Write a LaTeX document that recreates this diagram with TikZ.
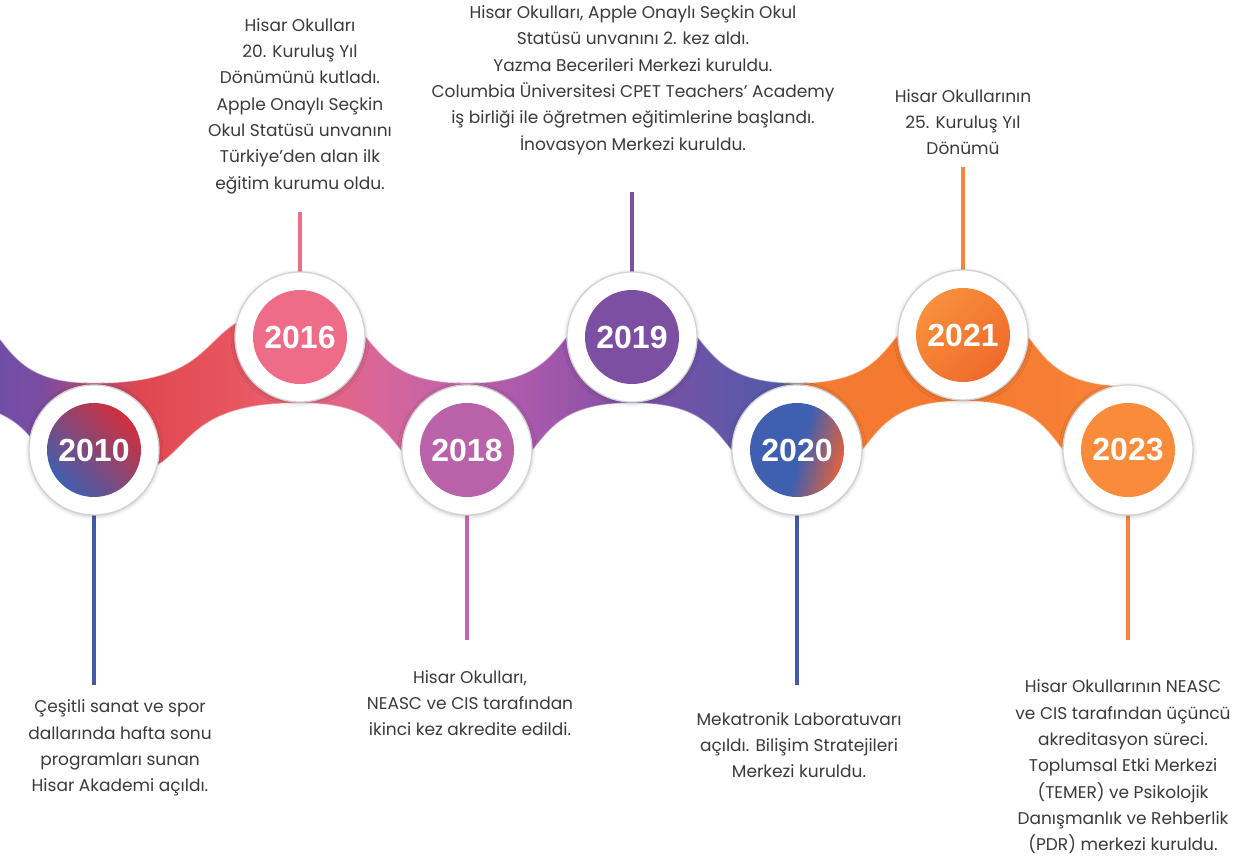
\documentclass[tikz,border=0pt]{standalone}
\usepackage{fontspec}
\setmainfont{Poppins}
\newfontfamily\yearfont{Liberation Sans}
\usetikzlibrary{shadows.blur}
\definecolor{txt}{HTML}{3A3A3A}
\definecolor{r0}{HTML}{644EAE}
\definecolor{r1}{HTML}{7A4CA2}
\definecolor{r2}{HTML}{E0474F}
\definecolor{r3}{HTML}{E7555E}
\definecolor{r4}{HTML}{EA6378}
\definecolor{r5}{HTML}{D8669A}
\definecolor{r6}{HTML}{BB62AA}
\definecolor{r7}{HTML}{A257AB}
\definecolor{r8}{HTML}{7F4FA4}
\definecolor{r9}{HTML}{6456A8}
\definecolor{r10}{HTML}{5559AA}
\definecolor{r11}{HTML}{F57A32}
\definecolor{r12}{HTML}{F6792F}
\definecolor{r13}{HTML}{F7843A}
\definecolor{cblue}{HTML}{3F5FB0}
\definecolor{cred}{HTML}{D12F3C}
\definecolor{cpink}{HTML}{EE6C87}
\definecolor{corchid}{HTML}{B962A9}
\definecolor{cpurple}{HTML}{7C4FA2}
\definecolor{corange}{HTML}{F98B3A}
\definecolor{corangeL}{HTML}{F8903C}
\definecolor{corangeD}{HTML}{F06A2A}
\definecolor{cmix}{HTML}{E2623C}
\definecolor{lblue}{HTML}{4459A8}
\definecolor{lpink}{HTML}{EE6E8A}
\definecolor{lorchid}{HTML}{C268B2}
\definecolor{lpurple}{HTML}{7D4FA5}
\definecolor{lorange}{HTML}{F7853A}
\definecolor{ringline}{HTML}{D2D2D2}
\pgfdeclarehorizontalshading{ribbonshade}{100bp}{color(0bp)=(r0); color(25bp)=(r0); color(29.4bp)=(r1); color(33.6bp)=(r2); color(37.4bp)=(r3); color(40.3bp)=(r4); color(43.65bp)=(r5); color(47.3bp)=(r6); color(50.8bp)=(r7); color(54.2bp)=(r8); color(57.9bp)=(r9); color(60.4bp)=(r10); color(61.9bp)=(r11); color(68.1bp)=(r12); color(75bp)=(r13); color(100bp)=(r13)}
\pgfdeclarehorizontalshading{twentyshade}{100bp}{color(0bp)=(cblue); color(25bp)=(cblue); color(52bp)=(cblue); color(75bp)=(cmix); color(100bp)=(cmix)}
\pgfdeclarelayer{bg}
\pgfsetlayers{bg,main}
\tikzset{
  ring/.style={circle, fill=white, draw=ringline, line width=1.3pt, minimum size=130pt, inner sep=0pt,
    blur shadow={shadow xshift=0pt, shadow yshift=-1pt, shadow blur radius=4pt, shadow opacity=25}},
  disc/.style={circle, minimum size=94pt, inner sep=0pt, text=white, font=\yearfont\bfseries\fontsize{32}{32}\selectfont},
  stem/.style={line width=4pt},
  info/.style={align=center, text=txt, font=\fontsize{17}{26.3}\selectfont, inner sep=0pt},
}
\begin{document}
\begin{tikzpicture}[x=1pt,y=-1pt]
\useasboundingbox (0,0) rectangle (1236,856);
% circles
\node[ring] (c2010) at (94,450) {};
\node[disc, left color=cblue, right color=cred, shading angle=135] (d2010) at (c2010.center) {2010};
\node[ring] (c2016) at (300,337) {};
\node[disc, fill=cpink] (d2016) at (c2016.center) {2016};
\node[ring] (c2018) at (467,450) {};
\node[disc, fill=corchid] (d2018) at (c2018.center) {2018};
\node[ring] (c2019) at (632,337) {};
\node[disc, fill=cpurple] (d2019) at (c2019.center) {2019};
\node[ring] (c2020) at (797,450) {};
\node[disc, shading=twentyshade, shading angle=-15] (d2020) at (c2020.center) {2020};
\node[ring] (c2021) at (963,335) {};
\node[disc, left color=corangeL, right color=corangeD, shading angle=45] (d2021) at (c2021.center) {2021};
\node[ring] (c2023) at (1128,450) {};
\node[disc, fill=corange] (d2023) at (c2023.center) {2023};
% texts
\node[info] (t2016) at (300,106) {Hisar Okulları\\20. Kuruluş Yıl\\Dönümünü kutladı.\\Apple Onaylı Seçkin\\Okul Statüsü unvanını\\Türkiye’den alan ilk\\eğitim kurumu oldu.};
\node[info] (t2019) at (633,80) {Hisar Okulları, Apple Onaylı Seçkin Okul\\Statüsü unvanını 2. kez aldı.\\Yazma Becerileri Merkezi kuruldu.\\Columbia Üniversitesi CPET Teachers’ Academy\\iş birliği ile öğretmen eğitimlerine başlandı.\\İnovasyon Merkezi kuruldu.};
\node[info] (t2021) at (963,122) {Hisar Okullarının\\25. Kuruluş Yıl\\Dönümü};
\node[info] (t2010) at (120,748) {Çeşitli sanat ve spor\\dallarında hafta sonu\\programları sunan\\Hisar Akademi açıldı.};
\node[info] (t2018) at (470,703) {Hisar Okulları,\\NEASC ve CIS tarafından\\ikinci kez akredite edildi.};
\node[info] (t2020) at (799,745) {Mekatronik Laboratuvarı\\açıldı. Bilişim Stratejileri\\Merkezi kuruldu.};
\node[info] (t2023) at (1123,767) {Hisar Okullarının NEASC\\ve CIS tarafından üçüncü\\akreditasyon süreci.\\Toplumsal Etki Merkezi\\(TEMER) ve Psikolojik\\Danışmanlık ve Rehberlik\\(PDR) merkezi kuruldu.};
% stem ends
\coordinate (e2010) at (94,685);
\coordinate (e2016) at (300,212);
\coordinate (e2018) at (467,640);
\coordinate (e2019) at (632,192);
\coordinate (e2020) at (797,685);
\coordinate (e2021) at (963,167);
\coordinate (e2023) at (1128,640);
\begin{pgfonlayer}{bg}
\begin{scope}
\clip (0,0) rectangle (1236,856);
\path[shading=ribbonshade, draw=white, draw opacity=0.45, line width=1.2pt]
  (-65,308)
  .. controls (21,308) and (-17,383) .. (94,383)
  .. controls (238.5,383) and (188.5,308) .. (300,308)
  .. controls (390,308) and (350,383) .. (467,383)
  .. controls (582.7,383) and (542.7,308) .. (632,308)
  .. controls (721.3,308) and (681.3,383) .. (797,383)
  .. controls (913.3,383) and (873.3,306) .. (963,306)
  .. controls (1052.3,306) and (1012.3,386) .. (1128,386)
  -- (1128,480)
  .. controls (1038.7,480) and (1078.7,401) .. (963,401)
  .. controls (846.7,401) and (886.7,480) .. (797,480)
  .. controls (707.7,480) and (747.7,403) .. (632,403)
  .. controls (516.3,403) and (556.3,480) .. (467,480)
  .. controls (376.9,480) and (416.9,403) .. (300,403)
  .. controls (155.5,403) and (205.5,480) .. (94,480)
  .. controls (21,480) and (59,403) .. (-65,403)
  -- cycle;
\end{scope}
\draw[stem, lblue] (c2010.center) -- (e2010);
\draw[stem, lpink] (c2016.center) -- (e2016);
\draw[stem, lorchid] (c2018.center) -- (e2018);
\draw[stem, lpurple] (c2019.center) -- (e2019);
\draw[stem, lblue] (c2020.center) -- (e2020);
\draw[stem, lorange] (c2021.center) -- (e2021);
\draw[stem, lorange] (c2023.center) -- (e2023);
\end{pgfonlayer}
\end{tikzpicture}
\end{document}
